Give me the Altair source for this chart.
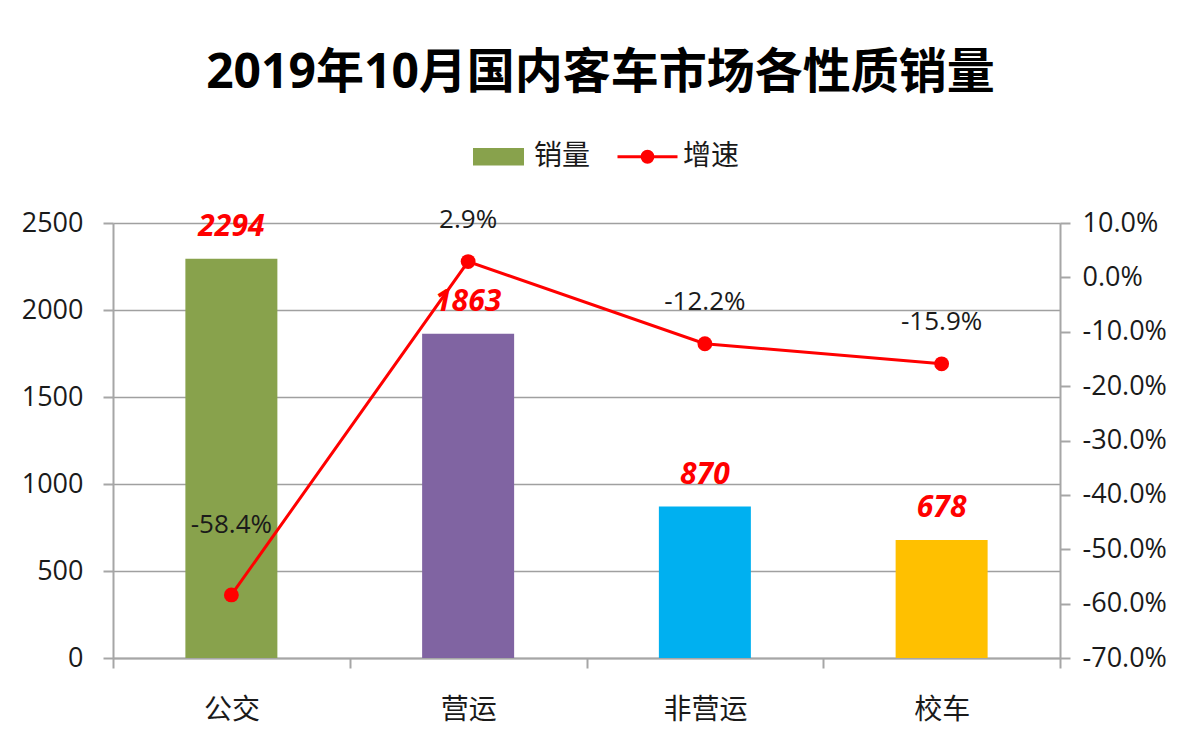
import altair as alt
import pandas as pd

# ---- data ----
categories = ['公交', '营运', '非营运', '校车']
sales = [2294, 1863, 870, 678]
growth = [-0.584, 0.029, -0.122, -0.159]
bar_colors = ['#88A24C', '#8064A2', '#00B0F0', '#FFC000']
series_names = ['销量', '增速']
series_colors = ['#88A24C', '#FF0000']
left_ticks = [0, 500, 1000, 1500, 2000, 2500]
right_ticks = [-0.7, -0.6, -0.5, -0.4, -0.3, -0.2, -0.1, 0.0, 0.1]

df = pd.DataFrame({'category': categories, 'sales': sales, 'growth': growth})

FONT = 'Open Sans, Noto Sans CJK SC'
AXIS_GRAY = '#A6A6A6'
TEXT = '#1a1a1a'

x_enc = alt.X(
    'category:N', sort=categories,
    scale=alt.Scale(paddingInner=0, paddingOuter=0),
    axis=alt.Axis(title=None, tickBand='extent', labelAngle=0, labelFont=FONT,
                  labelFontSize=28, labelColor=TEXT, labelPadding=28, tickSize=10,
                  domainColor=AXIS_GRAY, tickColor=AXIS_GRAY, domainWidth=2, tickWidth=2,
                  grid=False),
)

y_left = alt.Y(
    'sales:Q', scale=alt.Scale(domain=[0, 2500], nice=False),
    axis=alt.Axis(title=None, values=left_ticks, format='d', labelFont=FONT, labelFontSize=27,
                  labelColor=TEXT, labelPadding=20, tickSize=10, domainColor=AXIS_GRAY,
                  tickColor=AXIS_GRAY, domainWidth=2, tickWidth=2, grid=True,
                  gridColor='#A0A0A0', gridWidth=1.5),
)

y_right = alt.Y(
    'growth:Q', scale=alt.Scale(domain=[-0.7, 0.1], nice=False),
    axis=alt.Axis(title=None, orient='right', values=right_ticks, labelFont=FONT,
                  labelFontSize=27, labelColor=TEXT, labelPadding=12, tickSize=10,
                  domainColor=AXIS_GRAY, tickColor=AXIS_GRAY, domainWidth=2, tickWidth=2,
                  grid=False,
                  labelExpr="replace(format(datum.value, '.1%'), '−', '-')"),
)

base = alt.Chart(df)

bars = base.mark_bar(size=92).encode(
    x=x_enc, y=y_left,
    color=alt.Color('category:N', scale=alt.Scale(domain=categories, range=bar_colors), legend=None),
)

bar_labels = base.mark_text(color='#FF0000', font=FONT, fontSize=30, fontWeight='bold',
                            fontStyle='italic', dy=-32).encode(
    x=x_enc, y=y_left, text='sales:Q'
)

left_layer = alt.layer(bars, bar_labels)

line = base.mark_line(color='#FF0000', strokeWidth=3).encode(x=x_enc, y=y_right)
points = base.mark_circle(color='#FF0000', size=220, opacity=1).encode(x=x_enc, y=y_right)
pct = base.transform_calculate(
    lab="replace(format(datum.growth, '.1%'), '−', '-')"
)
pct_labels = pct.transform_filter(alt.datum.category != '公交').mark_text(
    color=TEXT, font=FONT, fontSize=26, dy=-42
).encode(x=x_enc, y=y_right, text='lab:N')
pct_label0 = pct.transform_filter(alt.datum.category == '公交').mark_text(
    color=TEXT, font=FONT, fontSize=26, dy=-70
).encode(x=x_enc, y=y_right, text='lab:N')

right_layer = alt.layer(line, points, pct_labels, pct_label0)

legend_def = alt.Legend(
    title=None, orient='none', legendX=354, legendY=-98, direction='horizontal',
    symbolSize=3600, symbolStrokeWidth=3, labelFont=FONT, labelFontSize=28,
    labelColor=TEXT, labelOffset=4, columnPadding=20, padding=0,
)
legend_layer = alt.Chart(pd.DataFrame({'series': series_names})).transform_filter(
    'false'
).mark_point(filled=True, opacity=1).encode(
    fill=alt.Fill('series:N', scale=alt.Scale(domain=series_names, range=series_colors), legend=legend_def),
    stroke=alt.Stroke('series:N', scale=alt.Scale(domain=series_names, range=series_colors), legend=legend_def),
    shape=alt.Shape('series:N', scale=alt.Scale(
        domain=series_names,
        range=['M-0.8,-0.24H0.8V0.24H-0.8Z',
               'M-1,0H1M0.18,0A0.18,0.18,0,1,1,-0.18,0A0.18,0.18,0,1,1,0.18,0']),
        legend=legend_def),
)

chart = alt.layer(left_layer, right_layer, legend_layer).resolve_scale(
    y='independent'
).properties(
    width=947, height=435,
    title=alt.TitleParams('2019年10月国内客车市场各性质销量', font=FONT, fontSize=48,
                          fontWeight='bold', color='#000000', anchor='middle',
                          offset=27, dx=14),
    autosize=alt.AutoSizeParams(type='none'),
    padding={'left': 113, 'top': 223, 'right': 140, 'bottom': 94},
).configure_view(strokeWidth=0).configure(background='white')

chart.save('out.html', embed_options={'renderer': 'svg', 'actions': False})
